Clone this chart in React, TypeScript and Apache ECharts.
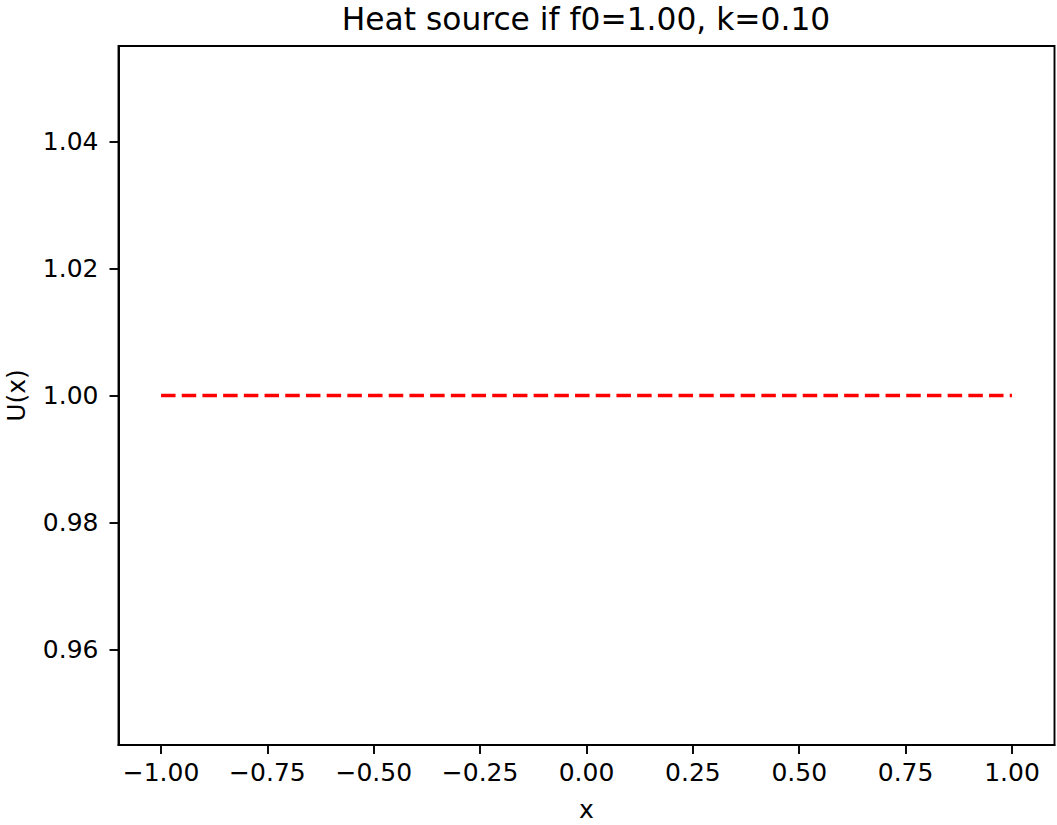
import React, { useEffect, useRef } from "react";
import * as echarts from "echarts";

const titleText = "Heat source if f0=1.00, k=0.10";
const xValues = [-1.0, -0.9, -0.8, -0.7, -0.6, -0.5, -0.4, -0.3, -0.2, -0.1, 0.0, 0.1, 0.2, 0.3, 0.4, 0.5, 0.6, 0.7, 0.8, 0.9, 1.0];
const uValues = [1.0, 1.0, 1.0, 1.0, 1.0, 1.0, 1.0, 1.0, 1.0, 1.0, 1.0, 1.0, 1.0, 1.0, 1.0, 1.0, 1.0, 1.0, 1.0, 1.0, 1.0];
const xTicks = [-1.0, -0.75, -0.5, -0.25, 0.0, 0.25, 0.5, 0.75, 1.0];
const yTicks = [0.96, 0.98, 1.0, 1.02, 1.04];
const xRange = [-1.1, 1.1];
const yRange = [0.945, 1.055];

const FONT = "DejaVu Sans";
const fmt = (v: number) => {
  const s = Math.abs(v).toFixed(2);
  return v < -1e-9 ? "\u2212" + s : s;
};

export default function App() {
  const ref = useRef<HTMLDivElement>(null);
  useEffect(() => {
    if (!ref.current) return;
    const chart = echarts.init(ref.current, undefined, { renderer: "svg" });
    chart.setOption({
      animation: false,
      backgroundColor: "#ffffff",
      title: {
        text: titleText,
        left: 581,
        textAlign: "center",
        top: -2,
        textStyle: { fontFamily: FONT, fontSize: 31.3, fontWeight: "normal", color: "#000" },
      },
      grid: {
        left: 118.5,
        right: 2.5,
        top: 46,
        bottom: 80,
        outerBoundsMode: "none",
        containLabel: false,
        show: true,
        borderColor: "#000",
        borderWidth: 1.9,
        backgroundColor: "transparent",
      },
      xAxis: {
        type: "value",
        min: xRange[0],
        max: xRange[1],
        name: "x",
        nameLocation: "middle",
        nameGap: 52,
        nameTextStyle: { fontFamily: FONT, fontSize: 25, color: "#000" },
        splitLine: { show: false },
        axisLine: { show: true, onZero: false, lineStyle: { color: "#000", width: 1.9 } },
        axisTick: { show: true, length: 9, lineStyle: { color: "#000", width: 1.9 }, customValues: xTicks },
        axisLabel: {
          customValues: xTicks,
          formatter: (v: number) => fmt(v),
          fontFamily: FONT,
          fontSize: 25,
          color: "#000",
          margin: 15,
        },
      },
      yAxis: {
        type: "value",
        min: yRange[0],
        max: yRange[1],
        name: "U(x)",
        nameLocation: "middle",
        nameGap: 90,
        nameRotate: 90,
        nameTextStyle: { fontFamily: FONT, fontSize: 25, color: "#000" },
        splitLine: { show: false },
        axisLine: { show: true, onZero: false, lineStyle: { color: "#000", width: 1.9 } },
        axisTick: { show: true, length: 9, lineStyle: { color: "#000", width: 1.9 }, customValues: yTicks },
        axisLabel: {
          customValues: yTicks,
          formatter: (v: number) => fmt(v),
          fontFamily: FONT,
          fontSize: 25,
          color: "#000",
          margin: 20,
        },
      },
      series: [
        {
          type: "line",
          data: xValues.map((x, i) => [x, uValues[i]]),
          showSymbol: false,
          symbol: "none",
          lineStyle: { color: "#ff0000", width: 3.6, type: [14.5, 6.2], cap: "butt" },
        },
      ],
    });
    return () => chart.dispose();
  }, []);
  return (
    <div
      ref={ref}
      style={{ position: "fixed", left: 0, top: 0, width: 1057, height: 825, background: "#fff" }}
    />
  );
}
